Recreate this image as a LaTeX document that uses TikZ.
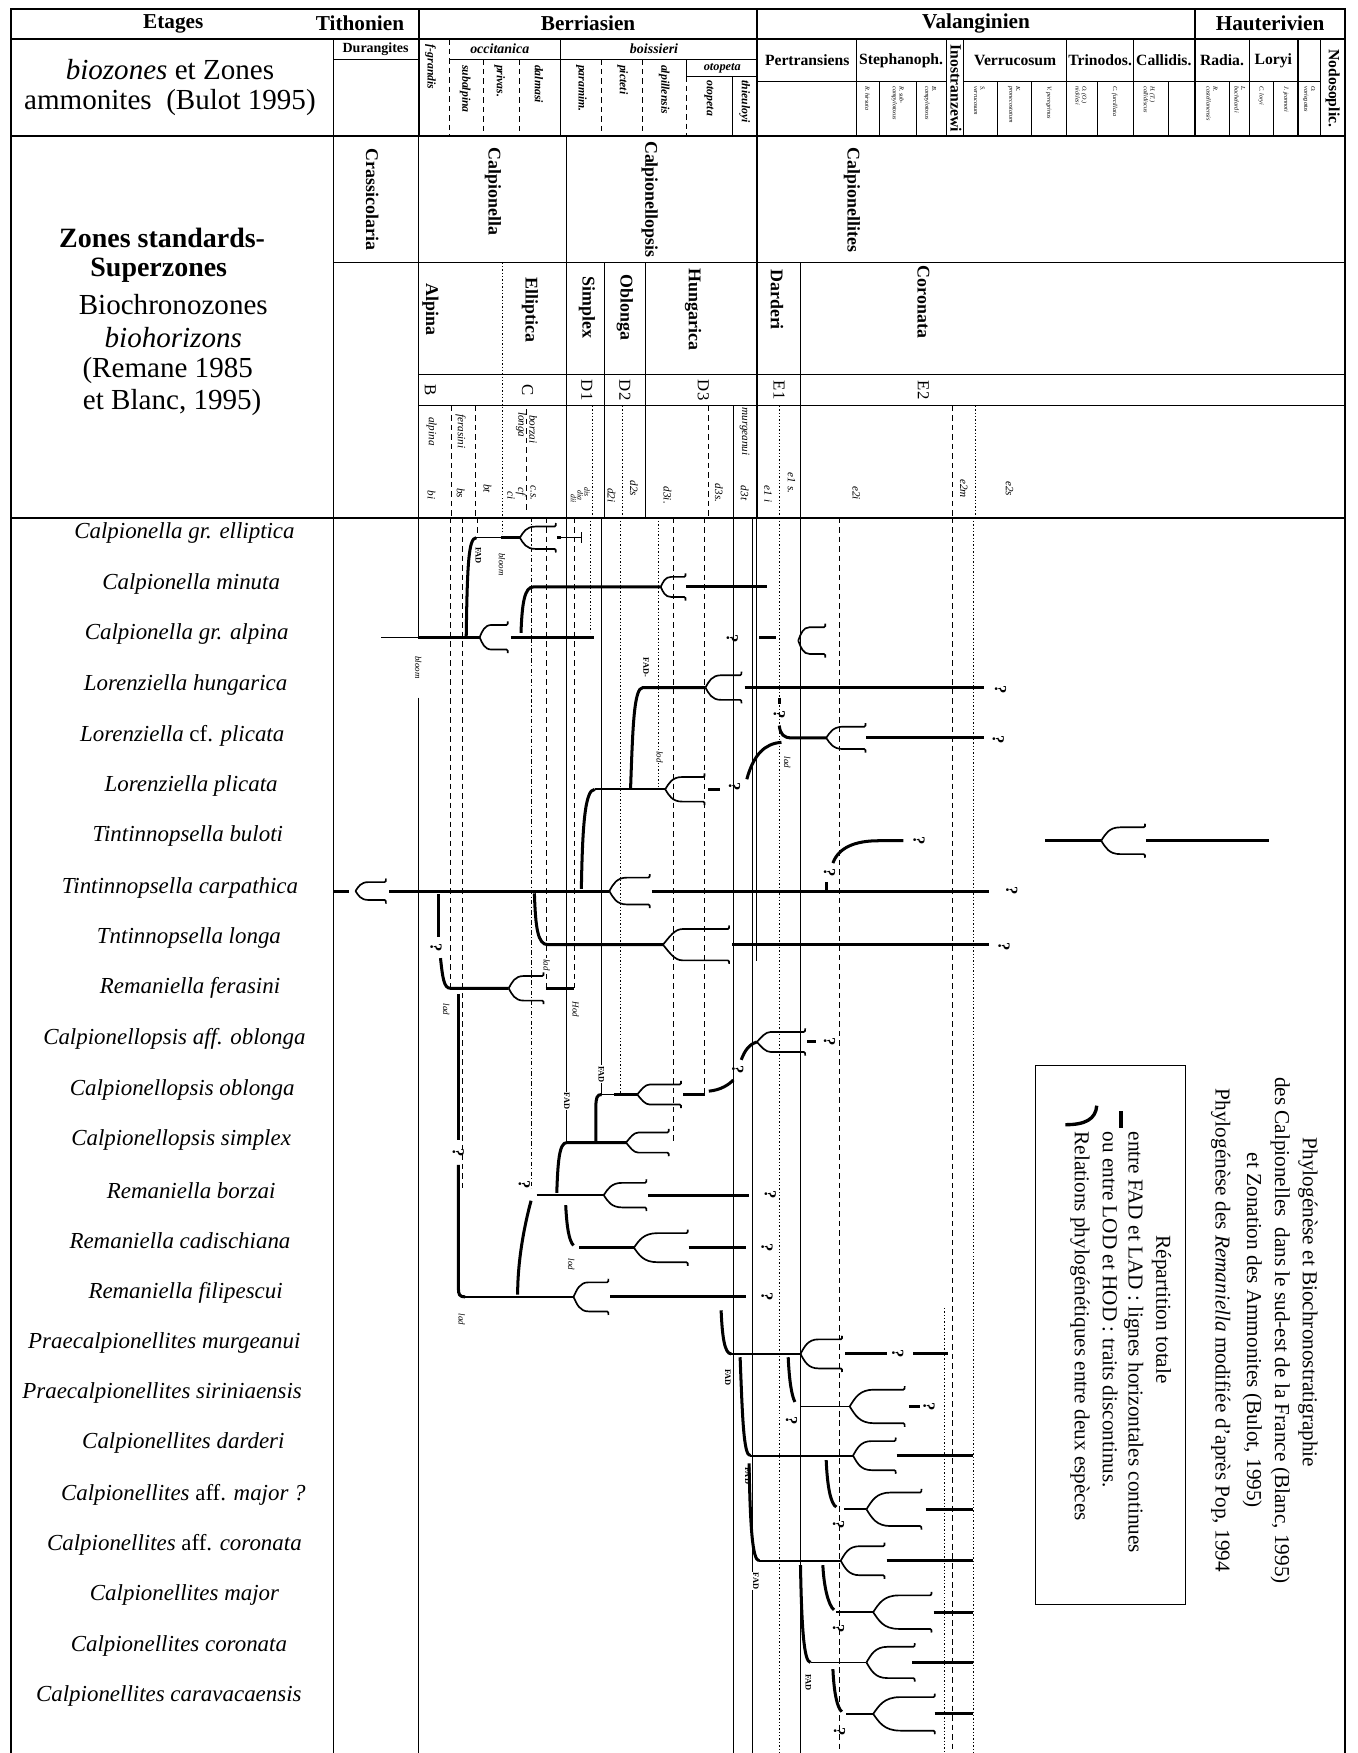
\documentclass[tikz,border=0pt]{standalone}
\usepackage{fontspec}
\setmainfont{Liberation Serif}
\begin{document}
\begin{tikzpicture}[x=1pt,y=-1pt,
 frame/.style={line width=1.6pt},
 grid/.style={line width=0.9pt},
 thn/.style={line width=0.8pt},
 gdash/.style={line width=0.7pt,dash pattern=on 5pt off 3.5pt},
 gdot/.style={line width=0.6pt,dash pattern=on 1.2pt off 1.8pt},
 gdashdot/.style={line width=0.6pt,dash pattern=on 4pt off 2pt on 1pt off 2pt},
 thk/.style={line width=2.7pt},
 med/.style={line width=1.6pt},
 cupl/.style={line width=1.5pt},
 hd/.style={font=\bfseries\fontsize{19}{21}\selectfont,inner sep=0},
 sp/.style={font=\itshape\fontsize{20.5}{22}\selectfont,inner sep=0},
 lh/.style={font=\fontsize{26}{28}\selectfont,inner sep=0},
 lhb/.style={font=\bfseries\fontsize{25}{27}\selectfont,inner sep=0},
 rb/.style={font=\bfseries\fontsize{16}{18}\selectfont,rotate=-90,inner sep=0},
 rl/.style={font=\bfseries\itshape\fontsize{10.5}{11}\selectfont,rotate=-90,anchor=west,inner sep=0},
 bi/.style={font=\bfseries\itshape\fontsize{12.5}{13}\selectfont,inner sep=0},
 vn/.style={font=\bfseries\fontsize{14}{15}\selectfont,inner sep=0},
 tl/.style={font=\itshape\fontsize{5.5}{6}\selectfont,rotate=-90,anchor=west,align=left,inner sep=0},
 bh/.style={font=\itshape\fontsize{10}{10}\selectfont,rotate=-90,inner sep=0},
 let/.style={font=\fontsize{15}{15}\selectfont,rotate=-90,inner sep=0},
 fad/.style={font=\bfseries\fontsize{7.5}{8}\selectfont,rotate=-90,fill=white,inner sep=0.6pt},
 bl/.style={font=\itshape\fontsize{8}{8}\selectfont,rotate=-90,fill=white,inner sep=0.6pt},
 qm/.style={font=\bfseries\fontsize{15}{15}\selectfont,rotate=-90,inner sep=0},
 lg/.style={font=\fontsize{19}{21}\selectfont,rotate=-90,anchor=west,inner sep=0},
 tt/.style={font=\fontsize{19}{21}\selectfont,rotate=-90,inner sep=0},
 pics/cup/.style n args={3}{code={
   \draw[cupl] (0,0) .. controls ({0.1*#1},{-0.5*#2}) and ({0.18*#1},{-#2}) .. ({#3*#1},{-#2}) -- ({#1},{-#2}) .. controls ({#1+1},{-#2}) and ({#1+1.5},{-#2-1.5}) .. ({#1+1.2},{-#2-3.2});
   \draw[cupl] (0,0) .. controls ({0.1*#1},{0.5*#2}) and ({0.18*#1},{#2}) .. ({#3*#1},{#2}) -- ({#1},{#2}) .. controls ({#1+1},{#2}) and ({#1+1.5},{#2+1.5}) .. ({#1+1.2},{#2+3.2});
 }}
]
\useasboundingbox (0,0) rectangle (1214,1568);
\fill[white] (0,0) rectangle (1214,1568);

% ---------------- frame and header grid
\draw[frame] (10,1568) -- (10,8) -- (1203,8) -- (1203,1568);
\draw[frame] (10,35) -- (1203,35);
\draw[frame] (10,122) -- (1203,122);
\draw[frame] (10,463) -- (1203,463);
\draw[frame] (375,8) -- (375,122);
\draw[frame] (677,8) -- (677,463);
\draw[frame] (1069,8) -- (1069,122);
\draw[grid] (298,35) -- (298,1568);
\draw[grid] (374,122) -- (374,463);
\draw[grid] (507,122) -- (507,463);
\draw[grid] (298,235) -- (1203,235);
\draw[grid] (374,335) -- (1203,335);
\draw[grid] (374,363) -- (1203,363);
\draw[grid] (541,235) -- (541,463);
\draw[grid] (577,235) -- (577,463);
\draw[grid] (716,235) -- (716,463);
\draw[gdot] (449,235) -- (449,463);

% row 1
\node[hd] (etages) at (155,21) {Etages};
\node[hd] (tith) at (322,21) {Tithonien};
\node[hd] (berr) at (526,21) {Berriasien};
\node[hd] (val) at (873,21) {Valanginien};
\node[hd] (haut) at (1136,21) {Hauterivien};

% row 2 left
\node[lh] (bz1) at (152,62) {\textit{biozones} et Zones};
\node[lh] (bz2) at (152,92) {ammonites~~(Bulot 1995)};

% row 2 Tithonien / Berriasien
\draw[grid] (298,53) -- (375,53);
\node[font=\bfseries\fontsize{12.5}{13}\selectfont,inner sep=0] (dur) at (336,44) {Durangites};
\draw[gdash] (402,35) -- (402,122);
\draw[grid] (402,53) -- (677,53);
\draw[grid] (501,35) -- (501,122);
\node[bi] (occ) at (447,44) {occitanica};
\node[bi] (boi) at (585,44) {boissieri};
\draw[grid] (614,53) -- (614,68) -- (677,68);
\node[bi,font=\bfseries\itshape\fontsize{11}{11}\selectfont] (oto) at (646,61) {otopeta};
\foreach \xx in {432,465,538,575} {\draw[gdash] (\xx,53) -- (\xx,122);}
\draw[gdash] (614,68) -- (614,122);
\draw[grid] (655,68) -- (655,122);
\node[rl] (fg) at (385,40) {f-grandis};
\node[rl] (suba) at (416,58) {subalpina};
\node[rl] (priv) at (447,58) {privas.};
\node[rl] (dalm) at (482,58) {dalmasi};
\node[rl] (para) at (520,58) {paramim.};
\node[rl] (pict) at (557,58) {picteti};
\node[rl] (alpi) at (594,58) {alpillensis};
\node[rl] (otop) at (634,72) {otopeta};
\node[rl] (thie) at (666,72) {thieuloyi};

% row 2 Valanginien / Hauterivien
\foreach \xx in {766,847,862,954,1014,1118,1161,1181} {\draw[grid] (\xx,35) -- (\xx,122);}
\draw[grid] (678,73) -- (847,73);
\draw[grid] (862,73) -- (1181,73);
\foreach \xx in {787,820,892,923,982,1045,1100,1139} {\draw[grid] (\xx,73) -- (\xx,122);}
\node[vn] (pert) at (722,54) {Pertransiens};
\node[vn] (step) at (806,54) {Stephanoph.};
\node[vn] (verr) at (908,54) {Verrucosum};
\node[vn] (trin) at (984,54) {Trinodos.};
\node[vn] (call) at (1041,54) {Callidis.};
\node[vn] (radi) at (1093,54) {Radia.};
\node[vn] (lory) at (1139,54) {Loryi};
\node[vn,rotate=-90] (inos) at (855,79) {Inostranzewi};
\node[vn,rotate=-90] (nodo) at (1192,79) {Nodosoplic.};
\node[tl] (t1) at (776,77) {R. hirsuta};
\node[tl] (t2) at (803,77) {R. sub-\\campylotoxus};
\node[tl] (t3) at (832,77) {B.\\campylotoxus};
\node[tl] (t4) at (876,77) {S.\\verrucosum};
\node[tl] (t5) at (907,77) {K.\\pronecostatum};
\node[tl] (t6) at (938,77) {V. peregrinus};
\node[tl] (t7) at (967,77) {O. (O.)\\nicklesi};
\node[tl] (t8) at (997,77) {C. furcillata};
\node[tl] (t9) at (1028,77) {H. (T.)\\callidiscus};
\node[tl] (t10) at (1084,77) {R.\\castellanensis};
\node[tl] (t11) at (1109,77) {L.\\bachelardi};
\node[tl] (t12) at (1128,77) {C. loryi};
\node[tl] (t13) at (1150,77) {J. jeannoti};
\node[tl] (t14) at (1171,77) {O.\\variegatus};

% row 3 left texts
\node[lhb] (zs1) at (145,213) {Zones standards-};
\node[lhb] (zs2) at (142,242) {Superzones};
\node[lh] (zs3) at (155,272) {Biochronozones};
\node[lh] (zs4) at (155,302) {\textit{biohorizons}};
\node[lh] (zs5) at (150,331) {(Remane 1985};
\node[lh] (zs6) at (154,360) {et Blanc, 1995)};

% superzones
\node[rb,anchor=west] (sz1) at (333,133) {Crassicolaria};
\node[rb,anchor=west] (sz2) at (441,132) {Calpionella};
\node[rb,anchor=west] (sz3) at (581,126) {Calpionellopsis};
\node[rb,anchor=west] (sz4) at (762,132) {Calpionellites};
% biochronozones
\node[rb] (bc1) at (385,277) {Alpina};
\node[rb] (bc2) at (474,277) {Elliptica};
\node[rb] (bc3) at (525,275) {Simplex};
\node[rb] (bc4) at (559,275) {Oblonga};
\node[rb] (bc5) at (620,277) {Hungarica};
\node[rb] (bc6) at (695,268) {Darderi};
\node[rb] (bc7) at (826,270) {Coronata};
% letters
\node[let] (lB) at (385,349) {B};
\node[let] (lC) at (472,349) {C};
\node[let] (lD1) at (525,349) {D1};
\node[let] (lD2) at (559,349) {D2};
\node[let] (lD3) at (629,349) {D3};
\node[let] (lE1) at (697,349) {E1};
\node[let] (lE2) at (826,349) {E2};
% biohorizon row
\draw[gdash] (404,363) -- (404,463);
\draw[gdash] (425,363) -- (425,463);
\draw[gdash] (471,366) -- (471,458);
\draw[gdot] (530,363) -- (530,463);
\draw[gdot] (557,363) -- (557,463);
\draw[gdash] (634,363) -- (634,463);
\draw[grid] (656,363) -- (656,463);
\draw[gdot] (697,363) -- (697,463);
\draw[gdash] (852,363) -- (852,463);
\draw[gdot] (872,363) -- (872,463);
\node[bh] (h1) at (386,386) {alpina};
\node[bh] (h2) at (386,443) {bi};
\node[bh] (h3) at (412,386) {ferasini};
\node[bh] (h4) at (412,441) {bs};
\node[bh] (h5) at (436,437) {bt};
\node[bh] (h6) at (457,443) {ci};
\node[bh] (h7) at (466,380) {longa};
\node[bh] (h8) at (477,384) {borzai};
\node[bh] (h9) at (466,440) {cf};
\node[bh] (h10) at (477,441) {c.s.};
\node[bh,font=\itshape\fontsize{7}{7}\selectfont] (h11) at (513,446) {dii};
\node[bh,font=\itshape\fontsize{7}{7}\selectfont] (h12) at (519,443) {dia};
\node[bh,font=\itshape\fontsize{7}{7}\selectfont] (h13) at (525,440) {dis};
\node[bh] (h14) at (547,443) {d2i};
\node[bh] (h15) at (567,437) {d2s};
\node[bh] (h16) at (597,443) {d3i.};
\node[bh] (h17) at (643,441) {d3s.};
\node[bh] (h18) at (666,386) {murgeanui};
\node[bh] (h19) at (666,441) {d3t};
\node[bh] (h20) at (687,442) {e1 i};
\node[bh] (h21) at (708,432) {e1 s.};
\node[bh] (h22) at (766,441) {e2i};
\node[bh] (h23) at (862,437) {e2m};
\node[bh] (h24) at (903,437) {e2s};

% ---------------- chart guide lines
\draw[thn] (374,463) -- (374,571);
\draw[thn] (374,624) -- (374,1568);
\draw[gdash] (403,463) -- (403,884);
\draw[gdash] (414,463) -- (414,1063);
\draw[gdash] (427,463) -- (427,478);
\draw[gdot] (449,463) -- (449,478);
\draw[gdashdot] (475,463) -- (475,1063);
\draw[gdash] (489,463) -- (489,884);
\draw[thn] (507,463) -- (507,1021);
\draw[gdash] (514,463) -- (514,884);
\draw[gdot] (528,463) -- (528,565);
\draw[thn] (538,463) -- (538,979);
\draw[gdot] (555,463) -- (555,979);
\draw[gdot] (589,463) -- (589,706);
\draw[gdash] (602,463) -- (602,1022);
\draw[gdash] (630,463) -- (630,979);
\draw[thn] (656,463) -- (656,1568);
\draw[thn] (673,463) -- (673,1568);
\draw[thn] (677,463) -- (677,860);
\draw[gdot] (697,463) -- (697,1568);
\draw[thn] (716,463) -- (716,1568);
\draw[gdash] (751,463) -- (751,1568);
\draw[gdot] (845,1170) -- (845,1568);
\draw[gdash] (852,463) -- (852,1568);
\draw[gdot] (871,463) -- (871,1568);

% ---------------- species names
\node[sp] (s1) at (165,477) {Calpionella gr. elliptica};
\node[sp] (s2) at (171,522) {Calpionella minuta};
\node[sp] (s3) at (167,567) {Calpionella gr. alpina};
\node[sp] (s4) at (166,613) {Lorenziella hungarica};
\node[sp] (s5) at (163,658) {Lorenziella \textup{cf.} plicata};
\node[sp] (s6) at (171,703) {Lorenziella plicata};
\node[sp] (s7) at (168,748) {Tintinnopsella buloti};
\node[sp] (s8) at (161,794) {Tintinnopsella carpathica};
\node[sp] (s9) at (169,839) {Tntinnopsella longa};
\node[sp] (s10) at (170,884) {Remaniella ferasini};
\node[sp] (s11) at (156,929) {Calpionellopsis aff. oblonga};
\node[sp] (s12) at (163,975) {Calpionellopsis oblonga};
\node[sp] (s13) at (162,1020) {Calpionellopsis simplex};
\node[sp] (s14) at (171,1065) {Remaniella borzai};
\node[sp] (s15) at (161,1110) {Remaniella cadischiana};
\node[sp] (s16) at (166,1156) {Remaniella filipescui};
\node[sp] (s17) at (147,1201) {Praecalpionellites murgeanui};
\node[sp] (s18) at (145,1246) {Praecalpionellites siriniaensis};
\node[sp] (s19) at (164,1291) {Calpionellites darderi};
\node[sp] (s20) at (164,1337) {Calpionellites \textup{aff.} major ?};
\node[sp] (s21) at (156,1382) {Calpionellites \textup{aff.} coronata};
\node[sp] (s22) at (165,1427) {Calpionellites major};
\node[sp] (s23) at (160,1472) {Calpionellites coronata};
\node[sp] (s24) at (151,1517) {Calpionellites caravacaensis};

% ---------------- phylogeny
% 1 elliptica
\draw[thk] (417,570) .. controls (418,505) and (419,481) .. (426,481);
\draw[thn] (426,481) -- (448,481);
\draw[thk] (448,481) -- (465,481);
\pic at (465,481) {cup={31}{10}{0.45}};
\draw[thk] (498,481) -- (502,481);
\draw[thn] (502,481) -- (520,481);
\draw[thn] (520,476) -- (520,486);
\node[fad] (f1) at (428,497) {FAD};
\node[bl] (b1) at (449,505) {bloom};
% 2 minuta
\draw[thk] (466,566) .. controls (467,540) and (469,525) .. (477,525) -- (591,525);
\pic at (591,525) {cup={21}{9}{0.45}};
\draw[thk] (614,525) -- (686,525);
% 3 alpina
\draw[thn] (341,570) -- (374,570);
\draw[thk] (374,570) -- (429,570);
\pic at (429,570) {cup={24}{11}{0.45}};
\draw[thk] (457,570) -- (531,570);
\node[qm] (q3) at (655,571) {?};
\draw[thk] (679,570) -- (694,570);
\pic at (714,573) {cup={23}{12}{0.45}};
\node[bl] (b3) at (374,597) {bloom};
% 4 hungarica
\draw[thk] (564,706) .. controls (566,650) and (567,615) .. (575,615) -- (631,615);
\pic at (631,615) {cup={31}{11}{0.45}};
\draw[thk] (666,615) -- (880,615);
\node[qm] (q4) at (895,617) {?};
\node[fad] (f4) at (578,597) {FAD-};
% 5 cf. plicata
\draw[thk] (697,624) -- (697,630);
\node[qm] (q5a) at (697,639) {?};
\draw[thk] (697,649) .. controls (698,657) and (701,660) .. (708,660) -- (739,660);
\pic at (739,660) {cup={34}{10}{0.45}};
\draw[thk] (775,660) -- (880,660);
\node[qm] (q5) at (893,662) {?};
\node[bl] (b5) at (704,682) {lad};
% 6 plicata
\draw[thk] (520,795) .. controls (521,740) and (523,706) .. (532,706);
\draw[med] (532,706) -- (595,706);
\pic at (595,706) {cup={34}{11}{0.45}};
\draw[thk] (633,706) -- (644,706);
\node[qm] (q6) at (657,704) {?};
\draw[thk] (668,697) .. controls (674,675) and (684,665) .. (699,664);
\node[bl] (b6) at (590,677) {lod};
% 7 buloti
\draw[thk] (739,797) -- (739,789);
\node[qm] (q7a) at (742,781) {?};
\draw[thk] (745,772) .. controls (750,758) and (765,752) .. (786,752) -- (808,752);
\node[qm] (q7b) at (822,752) {?};
\draw[thk] (935,752) -- (985,752);
\pic at (985,752) {cup={38}{12}{0.45}};
\draw[thk] (1025,752) -- (1135,752);
% 8 carpathica
\draw[thk] (298,797) -- (312,797);
\pic at (318,797) {cup={26}{8}{0.45}};
\draw[thk] (348,797) -- (545,797);
\pic at (545,797) {cup={35}{12}{0.45}};
\draw[thk] (583,797) -- (885,797);
\node[qm] (q8) at (905,797) {?};
% 9 longa
\draw[thk] (478,799) .. controls (479,830) and (481,845) .. (490,845) -- (593,845);
\pic at (593,845) {cup={58}{14}{0.3}};
\draw[thk] (655,845) -- (885,845);
\node[qm] (q9) at (898,847) {?};
\node[bl] (b9) at (489,863) {lad};
% 10 ferasini
\draw[thk] (392,800) -- (392,838);
\node[qm] (q10) at (390,848) {?};
\draw[thk] (394,857) .. controls (396,875) and (397,884) .. (403,884) -- (455,884);
\pic at (455,884) {cup={30}{11}{0.45}};
\draw[thk] (488,884) -- (513,884);
\node[bl] (b10a) at (399,903) {lad};
\node[bl] (b10b) at (515,903) {Hod};
% 16 filipescui (stem from ferasini)
\draw[thk] (410,889) -- (410,1020);
\node[qm] (q16a) at (410,1031) {?};
\draw[thk] (410,1042) -- (410,1152) .. controls (410,1158) and (411,1160) .. (416,1160);
\draw[med] (416,1160) -- (513,1160);
\pic at (513,1160) {cup={30}{13}{0.45}};
\draw[thk] (546,1160) -- (667,1160);
\node[qm] (q16) at (686,1160) {?};
\node[bl] (b16) at (413,1180) {lad};
% 11 aff. oblonga
\pic at (677,932) {cup={42}{9}{0.3}};
\draw[thk] (722,932) -- (730,932);
\node[qm] (q11) at (742,932) {?};
% 12 oblonga
\draw[thk] (533,1022) -- (533,990) .. controls (533,982) and (534,979) .. (538,979);
\draw[thn] (538,979) -- (549,979);
\draw[thk] (549,979) -- (570,979);
\pic at (570,979) {cup={38}{9}{0.3}};
\draw[thk] (611,979) -- (631,979);
\draw[thk] (634,976) .. controls (645,975) and (652,970) .. (656,966);
\node[qm] (q12) at (660,957) {?};
\draw[thk] (663,948) .. controls (666,940) and (670,934) .. (677,932);
\node[fad] (f12a) at (538,961) {FAD};
\node[fad] (f12b) at (507,985) {FAD};
% 13 simplex
\draw[thk] (498,1067) .. controls (499,1040) and (500,1022) .. (507,1022) -- (560,1022);
\pic at (560,1022) {cup={37}{9}{0.3}};
% 14 borzai
\node[qm] (q14a) at (469,1060) {?};
\draw[thk] (475,1074) .. controls (468,1100) and (463,1130) .. (463,1158);
\draw[med] (480,1069) -- (540,1069);
\pic at (540,1069) {cup={37}{11}{0.45}};
\draw[thk] (580,1069) -- (670,1069);
\node[qm] (q14) at (689,1069) {?};
% 15 cadischiana
\draw[thk] (506,1078) .. controls (507,1098) and (509,1110) .. (513,1114);
\node[bl] (b15) at (511,1131) {lod};
\draw[thk] (518,1116) -- (567,1116);
\pic at (567,1116) {cup={47}{13}{0.45}};
\draw[thk] (616,1116) -- (667,1116);
\node[qm] (q15) at (686,1116) {?};
% 17 murgeanui
\draw[thk] (645,1172) .. controls (646,1195) and (648,1211) .. (654,1211);
\draw[med] (654,1211) -- (716,1211);
\pic at (716,1211) {cup={36}{13}{0.45}};
\draw[thk] (756,1211) -- (793,1211);
\node[qm] (q17) at (803,1211) {?};
\draw[thk] (817,1211) -- (848,1211);
\node[fad] (f17) at (651,1232) {FAD};
% 18 siriniaensis
\draw[thk] (705,1214) .. controls (706,1235) and (708,1248) .. (711,1254);
\node[qm] (q18a) at (708,1271) {?};
\draw[thn] (716,1258) -- (760,1258);
\pic at (760,1258) {cup={48}{15}{0.45}};
\draw[thk] (813,1258) -- (823,1258);
\node[qm] (q18) at (831,1258) {?};
% 19 darderi
\draw[thk] (662,1214) .. controls (664,1265) and (665,1302) .. (671,1302);
\draw[med] (671,1302) -- (763,1302);
\pic at (763,1302) {cup={37}{13}{0.45}};
\draw[thk] (802,1302) -- (870,1302);
\node[fad] (f19) at (669,1320) {FAD};
% 20 aff. major
\draw[thk] (739,1306) .. controls (740,1330) and (743,1345) .. (748,1348);
\node[qm] (q20) at (750,1364) {?};
\draw[med] (755,1350) -- (775,1350);
\pic at (775,1350) {cup={48}{15}{0.45}};
\draw[thk] (828,1350) -- (870,1350);
% 21 aff. coronata
\draw[thk] (670,1309) .. controls (671,1365) and (673,1396) .. (679,1396);
\draw[med] (679,1396) -- (752,1396);
\pic at (752,1396) {cup={38}{13}{0.45}};
\draw[thk] (793,1396) -- (870,1396);
\node[fad] (f21) at (676,1414) {FAD};
% 22 major
\draw[thk] (736,1400) .. controls (737,1420) and (741,1436) .. (746,1440);
\node[qm] (q22) at (750,1457) {?};
\draw[med] (748,1442) -- (781,1442);
\pic at (781,1442) {cup={51}{15}{0.45}};
\draw[thk] (835,1442) -- (870,1442);
% 23 coronata
\draw[thk] (716,1400) .. controls (717,1455) and (719,1487) .. (725,1487);
\draw[med] (725,1487) -- (775,1487);
\pic at (775,1487) {cup={42}{14}{0.45}};
\draw[thk] (816,1487) -- (870,1487);
\node[fad] (f23) at (723,1505) {FAD};
% 24 caravacaensis
\draw[thk] (745,1493) .. controls (746,1515) and (749,1528) .. (753,1531);
\node[qm] (q24) at (751,1549) {?};
\draw[med] (757,1533) -- (781,1533);
\pic at (781,1533) {cup={54}{15}{0.45}};
\draw[thk] (836,1533) -- (870,1533);

% ---------------- legend
\draw[grid] (926,953) rectangle (1060,1435);
\draw[line width=3pt] (981,989) .. controls (980,1001) and (971,1006) .. (953,1006);
\draw[line width=3.5pt] (1003,994) -- (1003,1009);
\node[lg] (lg1) at (1039,1105) {Répartition totale};
\node[lg] (lg2) at (1014,1012) {entre FAD et LAD : lignes horizontales continues};
\node[lg] (lg3) at (993,1012) {ou entre LOD et HOD : traits discontinus.};
\node[lg] (lg4) at (966,1012) {Relations phylogénétiques entre deux espèces};

% ---------------- title
\node[tt] (ti1) at (1170,1165) {Phylogénèse et Biochronostratigraphie};
\node[tt] (ti2) at (1145,1190) {des Calpionelles~~dans le sud-est de la France (Blanc, 1995)};
\node[tt] (ti3) at (1120,1190) {et Zonation des Ammonites (Bulot, 1995)};
\node[tt] (ti4) at (1092,1190) {Phylogénèse des \textit{Remaniella} modifiée d'après Pop, 1994};
\end{tikzpicture}
\end{document}
